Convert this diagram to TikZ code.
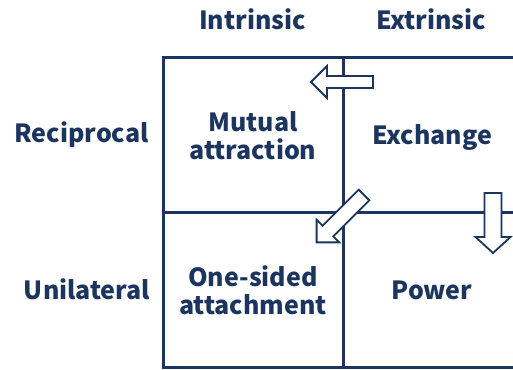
\documentclass[tikz,border=0pt]{standalone}
\usepackage{fontspec}
\setmainfont{Noto Sans CJK JP}
\definecolor{navy}{HTML}{1C355E}
\newcommand\fatarrow[5]{% tail, angle, length, shaft half width, head half width
  \begin{scope}[shift={(#1)},rotate=#2]
    \draw[fatarr] (0,-#4) -- (#3-16,-#4) -- (#3-16,-#5) -- (#3,0) -- (#3-16,#5) -- (#3-16,#4) -- (0,#4) -- cycle;
  \end{scope}}
\begin{document}
\begin{tikzpicture}[x=1pt,y=1pt,
  grid/.style={draw=navy,line width=3pt},
  fatarr/.style={draw=navy,fill=white,line width=1.8pt,line join=miter},
  lbl/.style={text=navy,font=\fontsize{25}{28}\selectfont\bfseries,align=center,inner sep=0pt}]
\useasboundingbox (0,0) rectangle (513,-369);
\fill[white] (0,0) rectangle (513,-369);
% grid
\coordinate (tl) at (163,-57);
\coordinate (tr) at (514,-57);
\coordinate (bl) at (163,-367);
\coordinate (br) at (514,-367);
\coordinate (mt) at (343,-57);
\coordinate (mb) at (343,-367);
\coordinate (ml) at (163,-212);
\coordinate (mr) at (514,-212);
\draw[grid] (tr) -- (tl) -- (bl) -- (br);
\draw[grid] (mt) -- (mb);
\draw[grid] (ml) -- (mr);
% arrows
\fatarrow{373,-82}{180}{62}{6}{16}
\fatarrow{364,-195}{225}{67}{7.5}{16}
\fatarrow{493,-193}{270}{60}{8.5}{17.5}
% labels
\node[lbl,anchor=base] (intr) at (252.5,-30) {Intrinsic};
\node[lbl,anchor=base] (extr) at (431,-30) {Extrinsic};
\node[lbl,anchor=base] (reci) at (81.5,-142) {Reciprocal};
\node[lbl,anchor=base] (unil) at (87,-299) {Unilateral};
\node[lbl] (mutu) at (253,-136) {Mutual\\attraction};
\node[lbl,anchor=base] (exch) at (432,-144) {Exchange};
\node[lbl] (ones) at (253,-290) {One-sided\\attachment};
\node[lbl,anchor=base] (powe) at (432,-299) {Power};
\end{tikzpicture}
\end{document}
